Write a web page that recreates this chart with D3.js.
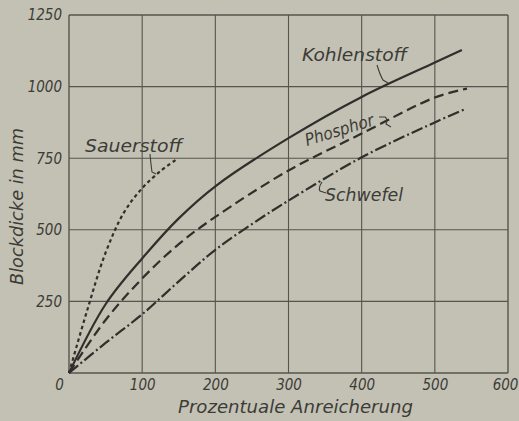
<!DOCTYPE html>
<html><head><meta charset="utf-8">
<script src="https://cdn.jsdelivr.net/npm/d3@7"></script>
<style>
html,body{margin:0;padding:0;background:#c3c1b4;}
svg{display:block;}
text{font-family:"DejaVu Sans Condensed","DejaVu Sans",sans-serif;font-style:oblique;fill:#3c3c37;}
</style></head>
<body>
<svg id="c" width="519" height="421"></svg>
<script>
// ---- data ----
const xTicks = [0, 100, 200, 300, 400, 500, 600];
const yTicks = [250, 500, 750, 1000, 1250];
const kohlenstoffX = [0, 50, 100, 150, 200, 300, 400, 500, 537];
const kohlenstoffY = [0, 240, 400, 540, 652, 820, 964, 1084, 1128];
const phosphorX = [0, 50, 100, 150, 200, 300, 400, 500, 544];
const phosphorY = [0, 185, 330, 450, 545, 707, 836, 962, 993];
const schwefelX = [0, 50, 100, 150, 200, 250, 300, 400, 500, 542];
const schwefelY = [0, 105, 205, 320, 430, 520, 602, 753, 875, 922];
const sauerstoffX = [0, 25, 50, 75, 100, 125, 147];
const sauerstoffY = [0, 220, 420, 560, 645, 705, 746];
const xTitle = "Prozentuale Anreicherung";
const yTitle = "Blockdicke in mm";

// ---- chart ----
const svg = d3.select("#c");
svg.append("rect").attr("width",519).attr("height",421).attr("fill","#c3c1b4");
const x = d3.scaleLinear().domain([0,600]).range([69,508]);
const y = d3.scaleLinear().domain([0,1250]).range([373,15]);

const grid = svg.append("g").attr("stroke","#55554e").attr("fill","none");
xTicks.forEach(v=>grid.append("line").attr("x1",x(v)).attr("x2",x(v)).attr("y1",y(0)).attr("y2",y(1250))
  .attr("stroke-width",(v===0||v===600)?1.4:1.1));
[0].concat(yTicks).forEach(v=>grid.append("line").attr("x1",x(0)).attr("x2",x(600)).attr("y1",y(v)).attr("y2",y(v))
  .attr("stroke-width",(v===0||v===1250)?1.4:1.1));

// axes labels via d3 axes
const xAxis = svg.append("g").attr("transform",`translate(0,${y(0)})`)
  .call(d3.axisBottom(x).tickValues(xTicks).tickSize(0).tickPadding(6).tickFormat(d3.format("d")));
xAxis.select(".domain").remove();
xAxis.selectAll("text").attr("font-size",15).attr("fill","#3c3c37")
  .attr("font-family","DejaVu Sans Condensed").attr("font-style","oblique")
  .attr("dx",d=>d===0?-10:(d===600?-3:0));
const yAxis = svg.append("g").attr("transform",`translate(${x(0)},0)`)
  .call(d3.axisLeft(y).tickValues(yTicks).tickSize(0).tickPadding(7).tickFormat(d3.format("d")));
yAxis.select(".domain").remove();
yAxis.selectAll("text").attr("font-size",15).attr("fill","#3c3c37")
  .attr("font-family","DejaVu Sans Condensed").attr("font-style","oblique");

// curves
const line = d3.line().x(d=>x(d[0])).y(d=>y(d[1])).curve(d3.curveCatmullRom.alpha(0.5));
function series(xs, ys){ return xs.map((v,i)=>[v, ys[i]]); }
const curves = svg.append("g").attr("fill","none").attr("stroke","#2f2f2b").attr("stroke-linecap","butt");
curves.append("path").datum(series(kohlenstoffX,kohlenstoffY)).attr("d",line).attr("stroke-width",2.2);
curves.append("path").datum(series(phosphorX,phosphorY)).attr("d",line).attr("stroke-width",2.2)
  .attr("stroke-dasharray","10,5");
curves.append("path").datum(series(schwefelX,schwefelY)).attr("d",line).attr("stroke-width",2.2)
  .attr("stroke-dasharray","12,3,2,3");
curves.append("path").datum(series(sauerstoffX,sauerstoffY)).attr("d",line).attr("stroke-width",2.2)
  .attr("stroke-dasharray","3.5,3");

// annotations
const ann = svg.append("g");
function label(t, x0, y0, fs, len, rot){
  const el = ann.append("text").attr("x",x0).attr("y",y0).attr("font-size",fs)
    .attr("textLength",len).attr("lengthAdjust","spacingAndGlyphs").text(t);
  if(rot) el.attr("transform",`rotate(${rot},${x0},${y0})`);
  return el;
}
label("Kohlenstoff", 302, 61, 18, 105);
label("Phosphor", 307, 146, 17, 71, -17);
label("Schwefel", 325, 201, 17, 78);
label("Sauerstoff", 85, 152, 18, 97);
const lead = ann.append("g").attr("fill","none").attr("stroke","#3c3c37").attr("stroke-width",1.1);
lead.append("path").attr("d","M377,65 Q380,75 383,80 L388,83");
lead.append("path").attr("d","M379,117 L385,117 Q388,119 386,124 L391,127");
lead.append("path").attr("d","M322,182 Q318,188 320,191 L326,193");
lead.append("path").attr("d","M150,154 Q151,165 152,172 L156,174");

// titles
svg.append("text").attr("x",178).attr("y",413).attr("font-size",18)
  .attr("textLength",235).attr("lengthAdjust","spacingAndGlyphs").text(xTitle);
svg.append("text").attr("transform","translate(23,285) rotate(-90)").attr("font-size",18)
  .attr("textLength",157).attr("lengthAdjust","spacingAndGlyphs").text(yTitle);
</script>
</body></html>
